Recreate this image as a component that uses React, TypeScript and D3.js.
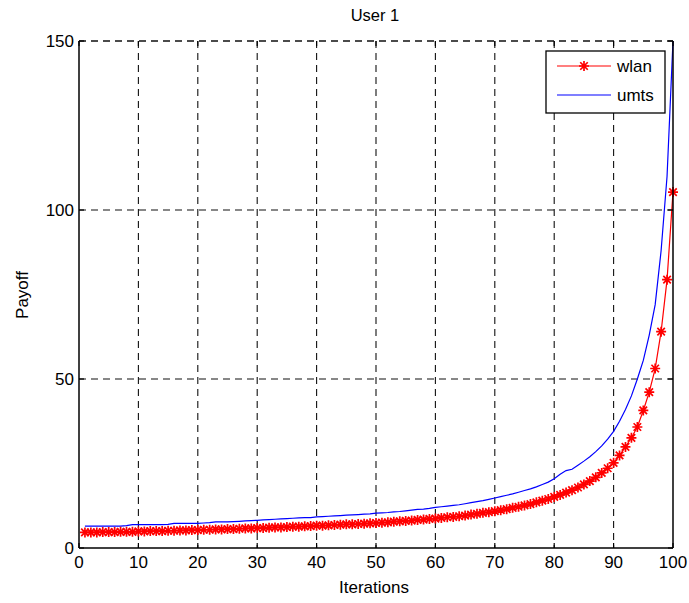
import React from "react";
import * as d3 from "d3";

const iterations: number[] = Array.from({ length: 100 }, (_, i) => i + 1);

const wlan: number[] = [
  4.6, 4.6, 4.6, 4.7, 4.7, 4.7, 4.8, 4.8, 4.8, 4.9,
  4.9, 5.0, 5.0, 5.0, 5.1, 5.1, 5.2, 5.2, 5.3, 5.3,
  5.4, 5.4, 5.5, 5.5, 5.6, 5.6, 5.7, 5.8, 5.8, 5.9,
  5.9, 6.0, 6.1, 6.1, 6.2, 6.3, 6.3, 6.4, 6.5, 6.6,
  6.6, 6.7, 6.8, 6.9, 7.0, 7.0, 7.1, 7.2, 7.3, 7.4,
  7.5, 7.6, 7.8, 7.9, 8.0, 8.1, 8.3, 8.4, 8.6, 8.7,
  8.9, 9.1, 9.2, 9.4, 9.6, 9.9, 10.1, 10.4, 10.6, 10.9,
  11.2, 11.5, 11.9, 12.2, 12.6, 13.0, 13.5, 14.0, 14.5, 15.1,
  15.7, 16.4, 17.1, 17.9, 18.8, 19.8, 20.9, 22.2, 23.6, 25.2,
  27.4, 29.9, 32.6, 35.8, 40.7, 46.1, 53.1, 64.0, 79.4, 105.3,
];

const umts: number[] = [
  6.5, 6.5, 6.5, 6.5, 6.5, 6.5, 6.5, 6.6, 6.9, 6.9,
  6.9, 6.9, 6.9, 6.9, 7.0, 7.3, 7.3, 7.3, 7.3, 7.3,
  7.4, 7.5, 7.7, 7.7, 7.7, 7.8, 7.9, 8.0, 8.1, 8.2,
  8.3, 8.4, 8.5, 8.6, 8.7, 8.8, 8.9, 9.0, 9.0, 9.2,
  9.3, 9.4, 9.5, 9.6, 9.7, 9.8, 9.9, 10.0, 10.1, 10.3,
  10.4, 10.5, 10.7, 10.8, 11.0, 11.2, 11.4, 11.5, 11.7, 12.0,
  12.2, 12.4, 12.6, 12.8, 13.1, 13.4, 13.7, 14.0, 14.4, 14.8,
  15.2, 15.6, 16.0, 16.5, 17.0, 17.5, 18.1, 18.8, 19.5, 20.5,
  21.8, 22.9, 23.3, 24.5, 25.7, 27.0, 28.5, 30.2, 32.2, 34.5,
  37.5, 41.0, 45.0, 50.0, 55.5, 63.0, 72.0, 88.0, 110.0, 150.0,
];

const xTicks: number[] = [0, 10, 20, 30, 40, 50, 60, 70, 80, 90, 100];
const yTicks: number[] = [0, 50, 100, 150];

const titleText = "User 1";
const xLabel = "Iterations";
const yLabel = "Payoff";
const seriesNames = ["wlan", "umts"];

const W = 689;
const H = 603;
const L = 79;
const R = 673;
const T = 41;
const B = 548;
const FONT = "'Liberation Sans', Arial, sans-serif";
const FS = 17;

export default function App() {
  const x = d3.scaleLinear().domain([0, 100]).range([L, R]);
  const y = d3.scaleLinear().domain([0, 150]).range([B, T]);

  const lineGen = d3
    .line<number>()
    .x((_, i) => x(iterations[i]))
    .y((d) => y(d));

  const star = (cx: number, cy: number, r: number, key: string | number) => {
    const d = r * 0.75;
    return (
      <path
        key={key}
        d={`M${cx - r},${cy}L${cx + r},${cy}M${cx},${cy - r}L${cx},${cy + r}M${cx - d},${cy - d}L${cx + d},${cy + d}M${cx - d},${cy + d}L${cx + d},${cy - d}`}
        stroke="#ff0000"
        strokeWidth={1.7}
        fill="none"
      />
    );
  };

  const tickLen = 5;

  return (
    <svg
      width={W}
      height={H}
      style={{ position: "absolute", left: 0, top: 0, background: "#fff" }}
      fontFamily={FONT}
    >
      <rect x={0} y={0} width={W} height={H} fill="#fff" />
      {/* grid */}
      {xTicks.slice(1, -1).map((t) => (
        <line
          key={"gx" + t}
          x1={x(t)}
          x2={x(t)}
          y1={T}
          y2={B}
          stroke="#111"
          strokeWidth={1.1}
          strokeDasharray="7,5"
        />
      ))}
      {yTicks.slice(1, -1).map((t) => (
        <line
          key={"gy" + t}
          x1={L}
          x2={R}
          y1={y(t)}
          y2={y(t)}
          stroke="#111"
          strokeWidth={1.1}
          strokeDasharray="7,5"
        />
      ))}
      <line x1={L} x2={R} y1={T} y2={T} stroke="#111" strokeWidth={1.3} strokeDasharray="7,5" />

      {/* series */}
      <g>
        <path d={lineGen(umts) || ""} fill="none" stroke="#0000ff" strokeWidth={1.2} />
        <path d={lineGen(wlan) || ""} fill="none" stroke="#ff0000" strokeWidth={1.2} />
        {wlan.map((v, i) => star(x(iterations[i]), y(v), 5, i))}
      </g>

      {/* axes box */}
      <line x1={L} x2={L} y1={T} y2={B} stroke="#000" strokeWidth={1.5} />
      <line x1={R} x2={R} y1={T} y2={B} stroke="#000" strokeWidth={1.5} />
      <line x1={L} x2={R} y1={B} y2={B} stroke="#000" strokeWidth={1.5} />
      {xTicks.map((t) => (
        <g key={"xt" + t}>
          <line x1={x(t)} x2={x(t)} y1={B} y2={B - tickLen} stroke="#000" strokeWidth={1.2} />
          <line x1={x(t)} x2={x(t)} y1={T} y2={T + tickLen} stroke="#000" strokeWidth={1.2} />
          <text x={x(t)} y={568} fontSize={FS} textAnchor="middle" fill="#000">
            {t}
          </text>
        </g>
      ))}
      {yTicks.map((t) => (
        <g key={"yt" + t}>
          <line x1={L} x2={L + tickLen} y1={y(t)} y2={y(t)} stroke="#000" strokeWidth={1.2} />
          <line x1={R} x2={R - tickLen} y1={y(t)} y2={y(t)} stroke="#000" strokeWidth={1.2} />
          <text x={74} y={y(t) + 6} fontSize={FS} textAnchor="end" fill="#000">
            {t}
          </text>
        </g>
      ))}

      {/* labels */}
      <text x={375} y={21} fontSize={16.5} textAnchor="middle" fill="#000">
        {titleText}
      </text>
      <text x={374} y={593} fontSize={FS} textAnchor="middle" fill="#000">
        {xLabel}
      </text>
      <text
        transform={`translate(28,295) rotate(-90)`}
        fontSize={FS}
        textAnchor="middle"
        fill="#000"
      >
        {yLabel}
      </text>

      {/* legend */}
      <g>
        <rect x={546} y={51} width={119} height={62} fill="#fff" stroke="#000" strokeWidth={1.3} />
        <line x1={557} x2={611} y1={66} y2={66} stroke="#ff0000" strokeWidth={1.2} />
        {star(584, 66, 5, "leg")}
        <text x={617} y={72} fontSize={FS} fill="#000">
          {seriesNames[0]}
        </text>
        <line x1={557} x2={611} y1={95} y2={95} stroke="#0000ff" strokeWidth={1.2} />
        <text x={617} y={101} fontSize={FS} fill="#000">
          {seriesNames[1]}
        </text>
      </g>
    </svg>
  );
}
